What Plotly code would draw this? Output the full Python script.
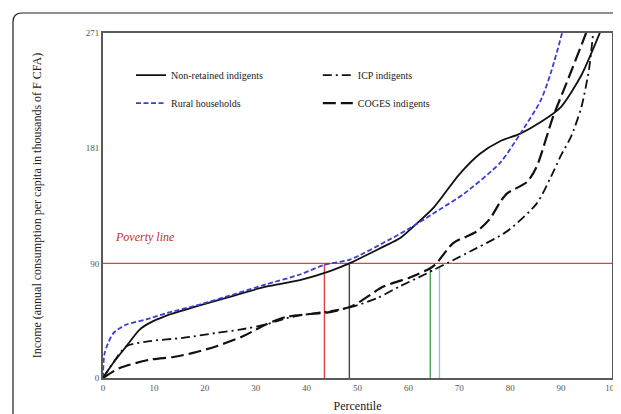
import plotly.graph_objects as go

# ---- data ----
nonret_p = [0, 2, 4.6, 7.2, 9.2, 12.5, 19, 25.6, 32, 38.7, 44.6, 48.4, 52, 55, 58.4, 61, 65, 70, 74, 78, 82, 86, 90, 94, 97.6, 100]
nonret_v = [0, 11.8, 25, 38, 43.3, 49, 57, 64.6, 71.7, 76.9, 84, 90, 97, 103, 110, 119, 134, 160, 176, 186, 192, 201, 213, 238, 271, 295]

rural_p = [0, 0.33, 2, 4.6, 8.5, 12.5, 19, 25.6, 32, 38.7, 43.6, 48.5, 56.4, 60, 66, 71, 78, 82, 86, 88, 90.2, 92]
rural_v = [0, 19.7, 35, 42, 46, 51, 57.7, 65.6, 73.5, 81.3, 89, 93, 109, 117, 132, 145, 169, 192, 218, 240, 271, 300]

icp_p = [0, 2, 4.6, 9.2, 15.7, 22.3, 26.9, 32, 36, 40, 44.6, 49, 54, 58.3, 62, 65, 68, 73.4, 79.3, 85.2, 88, 90, 92, 94, 95.5, 96.3, 97]
icp_v = [0, 12, 25, 29, 31.5, 35.4, 38, 42, 47, 50, 52.5, 56, 63, 72, 79, 85, 91, 102, 115, 137, 158, 175, 190, 213, 243, 271, 300]

coges_p = [0, 3.3, 9.2, 13.8, 17.7, 22.3, 27.5, 32, 36, 40, 44.6, 49.2, 55, 60.3, 64.2, 65.5, 68.8, 73.4, 76, 78, 79.4, 83.3, 85.2, 88.4, 91.1, 95, 97]
coges_v = [0, 7.9, 14.4, 16.5, 19.7, 25, 32.8, 42, 48, 50, 51.7, 57, 71.6, 79, 86, 90, 106, 115, 125, 138, 145, 154, 166, 205, 232, 272, 295]

POVERTY_LINE = 90
drop_p = [43.5, 48.4, 64.3, 66.1]          # percentile where each group hits the poverty line
drop_top = [90, 90, 87, 88]
drop_colors = ["#d94545", "#444444", "#4f9d5c", "#9dc0db"]

y_ticks = [0, 90, 181, 271]
x_ticks = list(range(0, 101, 10))

SERIF = "Liberation Serif"

fig = go.Figure()

fig.add_trace(go.Scatter(x=[0, 100], y=[POVERTY_LINE, POVERTY_LINE], mode="lines",
                         line=dict(color="#d94545", width=1.2), showlegend=False, hoverinfo="skip"))
for p, t, c in zip(drop_p, drop_top, drop_colors):
    fig.add_trace(go.Scatter(x=[p, p], y=[0, t], mode="lines",
                             line=dict(color=c, width=1.4), showlegend=False, hoverinfo="skip"))

fig.add_trace(go.Scatter(x=nonret_p, y=nonret_v, mode="lines", name="Non-retained indigents",
                         line=dict(color="#111111", width=1.8, shape="spline", smoothing=0.7),
                         legend="legend", legendgroup="a"))
fig.add_trace(go.Scatter(x=rural_p, y=rural_v, mode="lines", name="Rural households",
                         line=dict(color="#3a3fd0", width=1.8, dash="5px,2.5px", shape="spline", smoothing=0.7),
                         legend="legend", legendgroup="b"))
fig.add_trace(go.Scatter(x=icp_p, y=icp_v, mode="lines", name="ICP indigents",
                         line=dict(color="#111111", width=1.8, dash="9px,4px,2px,4px", shape="spline", smoothing=0.7),
                         legend="legend2", legendgroup="c"))
fig.add_trace(go.Scatter(x=coges_p, y=coges_v, mode="lines", name="COGES indigents",
                         line=dict(color="#111111", width=2.2, dash="13px,5px", shape="spline", smoothing=0.7),
                         legend="legend2", legendgroup="d"))

fig.add_annotation(x=2.0, y=111, text="<i>Poverty line</i>", showarrow=False, xanchor="left",
                   yanchor="middle", font=dict(family=SERIF, size=12, color="#c62a2a"))

fig.add_shape(type="path", xref="paper", yref="paper",
              path="M -0.1768,-0.2 L -0.1768,1.032 Q -0.1768,1.058 -0.159,1.058 L 1.1,1.058",
              line=dict(color="#222222", width=1.2))

legend_style = dict(font=dict(family=SERIF, size=10, color="#222222"), bgcolor="rgba(0,0,0,0)",
                    tracegroupgap=9, itemwidth=30, xanchor="left", yanchor="top")

fig.update_layout(
    width=613, height=406,
    margin=dict(l=95, r=9, t=25, b=36),
    paper_bgcolor="white", plot_bgcolor="white",
    legend=dict(x=0.055, y=0.92, **legend_style),
    legend2=dict(x=0.422, y=0.92, **legend_style),
    xaxis=dict(range=[0, 100], tickvals=x_ticks, showgrid=False, zeroline=False,
               showline=True, mirror=True, linecolor="#5a5a5a", linewidth=2, ticks="",
               tickfont=dict(family=SERIF, size=9, color="#555555"),
               title=dict(text="Percentile", standoff=10, font=dict(family=SERIF, size=12, color="#222222")),
               automargin=False),
    yaxis=dict(range=[0, 271], tickvals=y_ticks, showgrid=False, zeroline=False,
               showline=True, mirror=True, linecolor="#5a5a5a", linewidth=2, ticks="",
               tickfont=dict(family=SERIF, size=9, color="#555555"),
               title=dict(text="Income (annual consumption per capita in thousands of F CFA)", standoff=42,
                          font=dict(family=SERIF, size=12, color="#222222")),
               automargin=False),
)

fig.write_html("out.html")
